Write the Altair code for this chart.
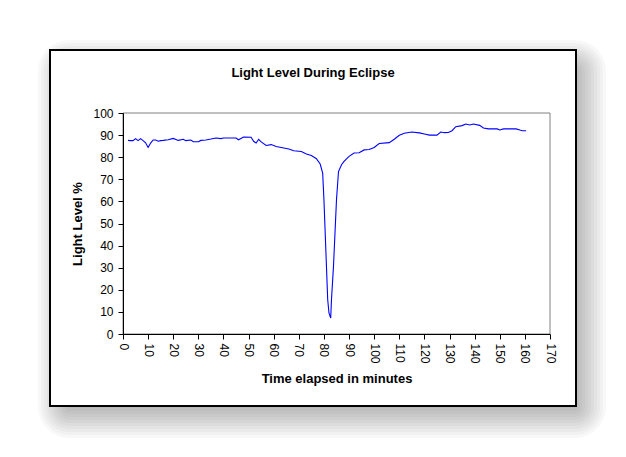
import altair as alt
import pandas as pd

# ---- data ----
minutes = [2, 3, 4, 5, 6, 7, 8, 9, 10, 11, 12, 13, 14, 15, 16, 18, 20, 22, 24, 25,
           27, 28, 30, 31, 33, 35, 37, 39, 40, 45, 46, 48, 51, 52, 53, 54, 55, 57, 59, 61,
           64, 66, 68, 71, 73, 75, 77, 78.5, 79.5, 80, 80.5, 81, 81.5, 82, 82.7, 83, 83.8, 84.4, 85, 85.8,
           87, 88, 90, 92, 94, 96, 98, 100, 102, 106, 108, 110, 112, 115, 118, 120, 122, 125, 126.5, 128,
           129.5, 131, 132.5, 135, 136.5, 138, 139.5, 142, 143.5, 145.5, 149, 150, 151.5, 156.5, 158, 159, 160.5]
light = [87.6, 87.5, 87.5, 88.4, 87.5, 88.4, 87.5, 86.5, 84.4, 86.4, 87.8, 87.8, 87.2, 87.5, 87.6, 87.9, 88.5, 87.6, 88.1, 87.5,
         87.8, 87.0, 87.0, 87.6, 87.8, 88.2, 88.7, 88.4, 88.7, 88.7, 87.9, 89.1, 89.0, 87.2, 86.4, 88.1, 86.9, 85.3, 85.7, 84.8,
         84.2, 83.7, 82.9, 82.6, 81.4, 80.8, 79.3, 76.9, 72.8, 60.8, 45.7, 30.6, 15.5, 9.5, 7.2, 15.5, 30.6, 45.7, 60.8, 73.5,
         76.6, 78.1, 80.4, 81.9, 82.0, 83.3, 83.5, 84.4, 86.2, 86.6, 88.1, 89.9, 90.8, 91.4, 91.0, 90.5, 90.0, 90.0, 91.4, 91.1,
         91.2, 92.0, 93.8, 94.3, 95.0, 94.6, 95.0, 94.4, 93.2, 92.8, 92.8, 92.3, 92.8, 92.8, 92.3, 92.0, 92.0]
x_ticks = list(range(0, 171, 10))
y_ticks = list(range(0, 101, 10))
chart_title = "Light Level During Eclipse"
x_title = "Time elapsed in minutes"
y_title = "Light Level %"

df = pd.DataFrame({"t": minutes, "v": light})
one = pd.DataFrame({"k": [0]})

W, H = 427, 221
FONT = "Liberation Sans"

# box (relative to plot origin)
BX0, BX1, BY0, BY1 = -73, 453, -63, 293

layers = []
# soft drop shadow made of stacked translucent rects
OFF_X, OFF_Y = 9, 11
for d in range(-15, 22, 3):
    layers.append(
        alt.Chart(one).mark_rect(
            color="black", opacity=0.028, cornerRadius=max(0, d + 10)
        ).encode(
            x=alt.value(BX0 + OFF_X - d), x2=alt.value(BX1 + OFF_X + d),
            y=alt.value(BY0 + OFF_Y - d), y2=alt.value(BY1 + OFF_Y + d),
        )
    )

# white chart box with black border
layers.append(
    alt.Chart(one).mark_rect(fill="white", stroke="black", strokeWidth=2).encode(
        x=alt.value(BX0), x2=alt.value(BX1), y=alt.value(BY0), y2=alt.value(BY1)
    )
)
# gray plot frame
layers.append(
    alt.Chart(one).mark_rect(fill="white", stroke="#808080", strokeWidth=1).encode(
        x=alt.value(0), x2=alt.value(W), y=alt.value(0), y2=alt.value(H)
    )
)

line = alt.Chart(df).mark_line(color="#0000FF", strokeWidth=1.1).encode(
    x=alt.X("t:Q", scale=alt.Scale(domain=[0, 170], nice=False, zero=False),
            axis=alt.Axis(values=x_ticks, labelAngle=90, labelAlign="left", labelBaseline="middle",
                          tickSize=5, labelPadding=4, grid=False, domainColor="black", tickColor="black",
                          labelColor="black", labelFont=FONT, labelFontSize=12, labelFontWeight="normal",
                          title=x_title, titleFont=FONT, titleFontSize=13, titleFontWeight="bold",
                          titleColor="black", titleY=44, titleBaseline="middle", zindex=1,
                          labelFlush=False, labelOverlap=False)),
    y=alt.Y("v:Q", scale=alt.Scale(domain=[0, 100], nice=False),
            axis=alt.Axis(values=y_ticks, tickSize=5, labelPadding=5, grid=False,
                          domainColor="black", tickColor="black", labelColor="black",
                          labelFont=FONT, labelFontSize=12, title=y_title, titleFont=FONT,
                          titleFontSize=13, titleFontWeight="bold", titleColor="black",
                          titleX=-46, titleY=H / 2, titleAngle=-90, titleAlign="center",
                          titleBaseline="middle", zindex=1, labelFlush=False, labelOverlap=False)),
)
layers.append(line)

title = alt.Chart(one).mark_text(
    text=chart_title, font=FONT, fontSize=13, fontWeight="bold", color="black",
    align="center", baseline="middle"
).encode(x=alt.value(190), y=alt.value(-40))
layers.append(title)

chart = alt.layer(*layers).properties(
    width=W, height=H,
    autosize=alt.AutoSizeParams(type="none"),
    padding={"left": 115, "top": 105, "right": 66, "bottom": 110},
    background="white",
).configure_view(stroke=None)

chart.save("out.html", embed_options={"renderer": "svg", "actions": False})
